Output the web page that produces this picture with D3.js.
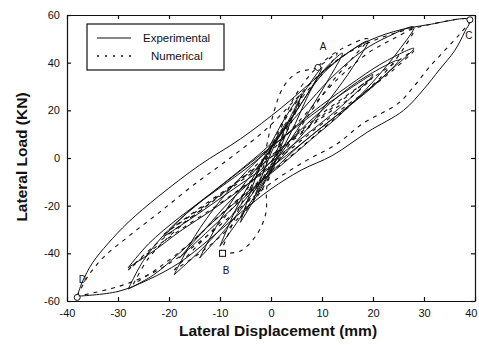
<!DOCTYPE html>
<html lang="en">
<head>
<meta charset="utf-8">
<title>Lateral Load vs Displacement</title>
<script src="https://d3js.org/d3.v7.min.js"></script>
<style>
  body { margin: 0; background: #fff; }
  .tick text { font-family: "Liberation Sans", Arial, sans-serif; font-size: 11px; fill: #111; }
  .title { font-family: "Liberation Sans", Arial, sans-serif; font-size: 15.5px; font-weight: bold; fill: #111; }
  .legend { font-family: "Liberation Sans", Arial, sans-serif; font-size: 11.5px; fill: #111; }
  .mark { font-family: "Liberation Sans", Arial, sans-serif; font-size: 10px; fill: #111; }
</style>
</head>
<body>
<div id="vis"></div>
<script>
const xTicks = [-40, -30, -20, -10, 0, 10, 20, 30, 40];
const yTicks = [-60, -40, -20, 0, 20, 40, 60];

// experimental loops (solid)
const expLoop1 = [[-3,-15],[-1.5,-6],[0,2],[1.5,9],[3,15],[1.5,5],[0,-3],[-1.5,-9],[-3,-15]];
const expLoop2 = [[-6,-27],[-4,-14],[-2,-3],[0,6],[2,14],[4,21],[6,27],[4,16],[2,5],[0,-5],[-2,-13],[-4,-20],[-6,-27]];
const expLoop3 = [[-10,-37],[-7,-22],[-4,-10],[0,4],[3,14],[6,26],[10,38],[7,25],[4,11],[1,-1],[-2,-12],[-6,-25],[-10,-37]];
const expLoop4 = [[-14,-42],[-10,-26],[-6,-13],[-2,-2],[2,10],[6,23],[10,36],[14,44],[11,32],[7,18],[3,5],[-1,-7],[-5,-19],[-9,-30],[-14,-42]];
const expLoop5 = [[-19,-49],[-15,-33],[-10,-18],[-5,-6],[0,5],[5,20],[10,35],[15,44],[19,49],[16,38],[12,26],[7,12],[2,0],[-3,-12],[-8,-25],[-13,-37],[-19,-49]];
const expLoop6 = [[-21,-33],[-16,-22],[-10,-12],[-4,-2],[2,8],[8,18],[14,27],[20,35],[15,24],[10,15],[4,5],[-2,-5],[-8,-14],[-14,-23],[-21,-33]];
const expLoop7 = [[-28,-55],[-25,-43],[-20,-30],[-13,-17],[-6,-5],[0,6],[6,20],[12,34],[18,45],[23,51],[28,55],[25,45],[20,32],[14,19],[8,8],[2,-3],[-5,-15],[-12,-28],[-18,-40],[-23,-49],[-28,-55]];
const expLoop8 = [[-28,-46],[-24,-36],[-18,-25],[-11,-14],[-4,-3],[2,8],[8,19],[15,30],[22,40],[28,46],[23,36],[17,25],[10,13],[3,1],[-4,-10],[-11,-21],[-18,-31],[-23,-39],[-28,-46]];
const expLoop9 = [[-18,-42],[-13,-30],[-8,-18],[-2,-6],[4,8],[10,20],[17,32],[25,41],[20,30],[13,18],[6,6],[0,-6],[-6,-18],[-12,-30],[-18,-42]];
const expLoop10 = [[-38,-58],[-37,-52],[-35,-44],[-32,-36],[-28,-27],[-22,-16],[-14,-3],[-6,8],[2,21],[8,32],[13,41],[18,48],[24,53],[31,56],[39,58],[38,53],[36,45],[33,37],[30,29],[26,20],[19,11],[12,1],[6,-5],[0,-13],[-6,-23],[-12,-34],[-18,-44],[-24,-51],[-30,-56],[-38,-58]];

// numerical loops (dashed)
const numLoop1 = [[-3,-13],[-1,-3],[0,4],[1.5,10],[3,14],[2,8],[0,-2],[-1.5,-8],[-3,-13]];
const numLoop2 = [[-6,-25],[-3,-12],[-1,-1],[1,8],[3,17],[6,26],[4,15],[1.5,4],[0,-6],[-2,-14],[-6,-25]];
const numLoop3 = [[-10,-40],[-8,-30],[-6,-20],[-3,-8],[-1,4],[0.4,18],[2.4,29.7],[5,35.6],[9,38],[13,44],[10,35],[6,25],[3,12],[1,0],[-0.8,-12],[-1,-23],[-2.7,-31.8],[-6,-39],[-10,-40]];
const numLoop4 = [[-19,-47],[-15,-38],[-10,-27],[-5,-14],[-1,0],[2,14],[5,27],[9,38],[14,46],[19,50],[16,42],[12,32],[8,20],[4,7],[0,-6],[-4,-19],[-9,-31],[-14,-40],[-19,-47]];
const numLoop5 = [[-27,-53],[-24,-42],[-19,-31],[-12,-19],[-5,-7],[1,5],[7,19],[13,33],[19,44],[24,50],[28,54],[26,46],[22,35],[16,23],[10,12],[4,1],[-3,-11],[-10,-24],[-16,-36],[-22,-46],[-27,-53]];
const numLoop6 = [[-28,-47],[-23,-37],[-17,-27],[-10,-16],[-3,-5],[3,6],[9,17],[16,28],[23,38],[28,45],[24,37],[18,27],[11,16],[4,4],[-3,-8],[-10,-19],[-17,-29],[-23,-38],[-28,-47]];
const numLoop7 = [[-21,-32],[-15,-23],[-9,-14],[-3,-4],[3,6],[9,16],[15,26],[20,34],[16,26],[10,17],[4,7],[-2,-3],[-8,-12],[-14,-21],[-21,-32]];
const numLoop8 = [[-38,-58],[-36,-50],[-33,-42],[-28,-33],[-22,-23],[-15,-11],[-8,0],[-1,12],[5,25],[10,36],[15,44],[21,50],[29,55],[39,58],[37,52],[34,45],[31,38],[28,30],[25,23],[18,14.5],[13,6],[7,-1],[1,-9],[-5,-19],[-11,-30],[-17,-40],[-23,-48],[-30,-54],[-38,-58]];

const expLoops = [expLoop1, expLoop2, expLoop3, expLoop4, expLoop5, expLoop6, expLoop7, expLoop8, expLoop9, expLoop10];
const numLoops = [numLoop1, numLoop2, numLoop3, numLoop4, numLoop5, numLoop6, numLoop7, numLoop8];

// marked points A, B, C, D
const circlePts = [[9.2,38],[39,58],[-38,-58.5]];
const squarePts = [[-9.5,-40]];
const markLabels = [["A",10.2,45.5],["B",-8.8,-48.5],["C",38.8,50],["D",-37,-52.5]];

const width = 479, height = 345;
const xScale = d3.scaleLinear().domain([-40, 40]).range([67, 475]);
const yScale = d3.scaleLinear().domain([-60, 60]).range([301, 15]);

const svg = d3.select("#vis").append("svg")
  .attr("width", width).attr("height", height);

const line = d3.line()
  .x(d => xScale(d[0]))
  .y(d => yScale(d[1]))
  .curve(d3.curveCatmullRom.alpha(0.5));

const plot = svg.append("g");

plot.selectAll(".exp").data(expLoops).enter().append("path")
  .attr("class", "exp")
  .attr("d", line)
  .attr("fill", "none")
  .attr("stroke", "#111")
  .attr("stroke-width", 1);

plot.selectAll(".num").data(numLoops).enter().append("path")
  .attr("class", "num")
  .attr("d", line)
  .attr("fill", "none")
  .attr("stroke", "#111")
  .attr("stroke-width", 1.1)
  .attr("stroke-dasharray", "4,5");

plot.selectAll(".pt").data(circlePts).enter().append("circle")
  .attr("cx", d => xScale(d[0]))
  .attr("cy", d => yScale(d[1]))
  .attr("r", 3)
  .attr("fill", "#fff")
  .attr("stroke", "#111");

plot.selectAll(".sq").data(squarePts).enter().append("rect")
  .attr("x", d => xScale(d[0]) - 3)
  .attr("y", d => yScale(d[1]) - 3)
  .attr("width", 6).attr("height", 6)
  .attr("fill", "#fff")
  .attr("stroke", "#111");

plot.selectAll(".mark").data(markLabels).enter().append("text")
  .attr("class", "mark")
  .attr("x", d => xScale(d[1]))
  .attr("y", d => yScale(d[2]))
  .attr("text-anchor", "middle")
  .text(d => d[0]);

// axes, box style with inward ticks
const bottomAxis = d3.axisBottom(xScale).tickValues(xTicks).tickSizeInner(-4).tickSizeOuter(0).tickPadding(8);
const topAxis = d3.axisTop(xScale).tickValues(xTicks).tickSizeInner(-4).tickSizeOuter(0).tickFormat("");
const leftAxis = d3.axisLeft(yScale).tickValues(yTicks).tickSizeInner(-4).tickSizeOuter(0).tickPadding(7);
const rightAxis = d3.axisRight(yScale).tickValues(yTicks).tickSizeInner(-4).tickSizeOuter(0).tickFormat("");

const xAxisG = svg.append("g").attr("transform", "translate(0,301)").call(bottomAxis);
svg.append("g").attr("transform", "translate(0,15)").call(topAxis);
svg.append("g").attr("transform", "translate(67,0)").call(leftAxis);
svg.append("g").attr("transform", "translate(475,0)").call(rightAxis);
svg.selectAll(".domain, .tick line").attr("stroke", "#111").attr("stroke-width", 1.2);
svg.selectAll(".tick text").text(function () { return d3.select(this).text().replace("−", "-"); });
// keep the last x label inside the page
xAxisG.selectAll(".tick text").filter(d => d === 40)
  .attr("text-anchor", "end").attr("dx", "2");

// legend
const legend = svg.append("g");
legend.append("rect")
  .attr("x", 87).attr("y", 24).attr("width", 137).attr("height", 46)
  .attr("fill", "#fff").attr("stroke", "#111").attr("stroke-width", 1.2);
legend.append("line")
  .attr("x1", 97).attr("x2", 131).attr("y1", 38).attr("y2", 38)
  .attr("stroke", "#111").attr("stroke-width", 1.2);
legend.append("line")
  .attr("x1", 97).attr("x2", 134).attr("y1", 56).attr("y2", 56)
  .attr("stroke", "#111").attr("stroke-width", 1.5).attr("stroke-dasharray", "2,6");
legend.append("text").attr("class", "legend").attr("x", 143).attr("y", 42).text("Experimental");
legend.append("text").attr("class", "legend").attr("x", 151).attr("y", 60).text("Numerical");

// axis titles
svg.append("text").attr("class", "title")
  .attr("x", 278).attr("y", 336)
  .attr("text-anchor", "middle")
  .text("Lateral Displacement (mm)");
svg.append("text").attr("class", "title")
  .attr("transform", "rotate(-90)")
  .attr("x", -157).attr("y", 27)
  .attr("text-anchor", "middle")
  .text("Lateral Load (KN)");
</script>
</body>
</html>
